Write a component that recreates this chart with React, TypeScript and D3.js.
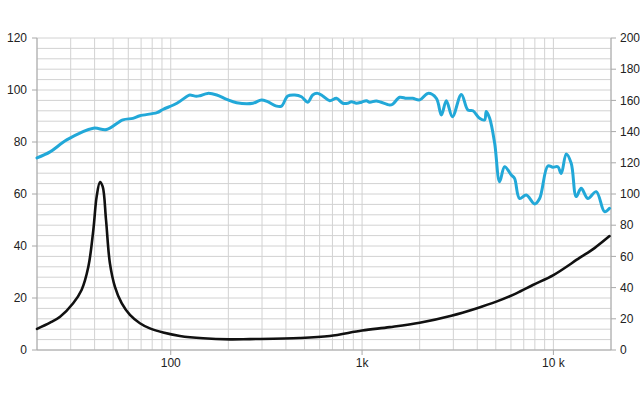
import React from "react";
import * as d3 from "d3";

const splFreq = [20, 23.4, 28.6, 39.4, 46.2, 56.2, 63.4, 69, 84.7, 91, 107.7, 123, 126, 136, 142, 156, 174, 196, 221, 269, 298, 321, 357, 379, 409, 445, 482, 520, 552, 586, 623, 678, 735, 792, 841, 880, 934, 993, 1054, 1096, 1188, 1394, 1445, 1572, 1705, 1838, 2000, 2210, 2445, 2597, 2757, 2966, 3303, 3573, 3795, 4112, 4368, 4458, 4644, 4932, 5236, 5559, 6026, 6266, 6653, 7211, 7977, 8472, 9354, 9931, 10546, 10990, 11668, 12390, 13154, 13968, 15136, 16750, 18494, 19646];
const splValue = [73.9, 76.2, 80.8, 85.3, 84.8, 88.5, 89.1, 90.1, 91.3, 92.5, 94.9, 97.8, 98.1, 97.6, 97.8, 98.7, 98.1, 96.4, 95.1, 94.9, 96.2, 95.5, 93.8, 93.8, 97.7, 98.1, 97.4, 95.3, 98.1, 98.7, 97.7, 95.9, 96.8, 94.9, 94.9, 95.5, 94.9, 95.3, 95.9, 95.3, 95.8, 94.2, 94.5, 97.2, 96.8, 96.8, 96.2, 98.7, 96.8, 90.4, 95.9, 89.7, 98.3, 92.3, 92.0, 89.1, 88.5, 91.7, 89.1, 79.5, 64.7, 70.5, 67.3, 66.0, 58.3, 59.6, 56.2, 58.3, 70.8, 70.3, 70.5, 67.9, 75.4, 71.8, 59.0, 62.2, 58.3, 60.9, 53.2, 54.5];

const impFreq = [20, 23.4, 26.4, 30.9, 34.2, 37.1, 39.4, 41, 42.7, 44.1, 45.9, 48.1, 51.1, 55.4, 61.2, 69, 77.8, 91.3, 111.6, 147.7, 203.6, 259, 472, 678, 1000, 1394, 2000, 2929, 3954, 5030, 6398, 7810, 10000, 13690, 16400, 19646];
const impValue = [8.1, 10.5, 12.8, 18.0, 23.1, 32.0, 46.2, 59.0, 64.6, 62.8, 50.0, 33.3, 24.3, 18.0, 13.5, 10.3, 8.3, 6.7, 5.4, 4.5, 4.1, 4.2, 4.6, 5.4, 7.5, 8.8, 10.5, 13.2, 16.0, 18.6, 21.8, 25.0, 28.8, 35.4, 39.2, 43.8];

const leftTicks = [0, 20, 40, 60, 80, 100, 120];
const rightTicks = [0, 20, 40, 60, 80, 100, 120, 140, 160, 180, 200];
const xTickValues = [100, 1000, 10000];
const xTickLabels = ["100", "1k", "10 k"];

const W = 640, H = 400;
const L = 37, R = 611, T = 38, B = 350;

export default function App() {
  const x = d3.scaleLog().domain([20, 20000]).range([L, R]);
  const yL = d3.scaleLinear().domain([0, 120]).range([B, T]);
  const yR = d3.scaleLinear().domain([0, 200]).range([B, T]);

  const hGrid = d3.range(0, 121, 4);
  const vGrid: number[] = [];
  [10, 100, 1000, 10000].forEach((dec) => {
    for (let m = 1; m <= 9; m++) {
      const f = dec * m;
      if (f >= 20 && f <= 20000) vGrid.push(f);
    }
  });

  const line = d3
    .line<[number, number]>()
    .x((d) => x(d[0]))
    .y((d) => yL(d[1]))
    .curve(d3.curveCatmullRom.alpha(0.5));

  const splPath = line(splFreq.map((f, i) => [f, splValue[i]]) as [number, number][]) || "";
  const impPath = line(impFreq.map((f, i) => [f, impValue[i]]) as [number, number][]) || "";

  const font = "'Liberation Sans', Arial, sans-serif";
  const gridColor = "#d2d2d2";
  const axisColor = "#a8a8a8";
  const textColor = "#222";

  return (
    <svg width={W} height={H} style={{ position: "absolute", left: 0, top: 0, background: "#fff" }}>
      <rect x={0} y={0} width={W} height={H} fill="#fff" />
      {hGrid.map((v) => (
        <line key={"h" + v} x1={L} x2={R} y1={yL(v)} y2={yL(v)} stroke={gridColor} strokeWidth={1} />
      ))}
      {vGrid.map((f) => (
        <line key={"v" + f} x1={x(f)} x2={x(f)} y1={T} y2={B} stroke={gridColor} strokeWidth={1} />
      ))}
      <line x1={L} x2={L} y1={T} y2={B} stroke={axisColor} />
      <line x1={R} x2={R} y1={T} y2={B} stroke={axisColor} />
      <line x1={L} x2={R} y1={B} y2={B} stroke={axisColor} />
      {leftTicks.map((v) => (
        <g key={"l" + v}>
          <line x1={L - 5} x2={L} y1={yL(v)} y2={yL(v)} stroke={axisColor} />
          <text x={L - 10} y={yL(v)} dy="0.35em" textAnchor="end" fontFamily={font} fontSize={12} fill={textColor}>
            {v}
          </text>
        </g>
      ))}
      {rightTicks.map((v) => (
        <g key={"r" + v}>
          <line x1={R} x2={R + 5} y1={yR(v)} y2={yR(v)} stroke={axisColor} />
          <text x={R + 9} y={yR(v)} dy="0.35em" textAnchor="start" fontFamily={font} fontSize={12} fill={textColor}>
            {v}
          </text>
        </g>
      ))}
      {xTickValues.map((f, i) => (
        <g key={"x" + f}>
          <line x1={x(f)} x2={x(f)} y1={B} y2={B + 5} stroke={axisColor} />
          <text x={x(f)} y={B + 17} textAnchor="middle" fontFamily={font} fontSize={12} fill={textColor}>
            {xTickLabels[i]}
          </text>
        </g>
      ))}
      <path d={splPath} fill="none" stroke="#22a8d8" strokeWidth={3} strokeLinejoin="round" strokeLinecap="round" />
      <path d={impPath} fill="none" stroke="#111" strokeWidth={2.6} strokeLinejoin="round" strokeLinecap="round" />
    </svg>
  );
}
